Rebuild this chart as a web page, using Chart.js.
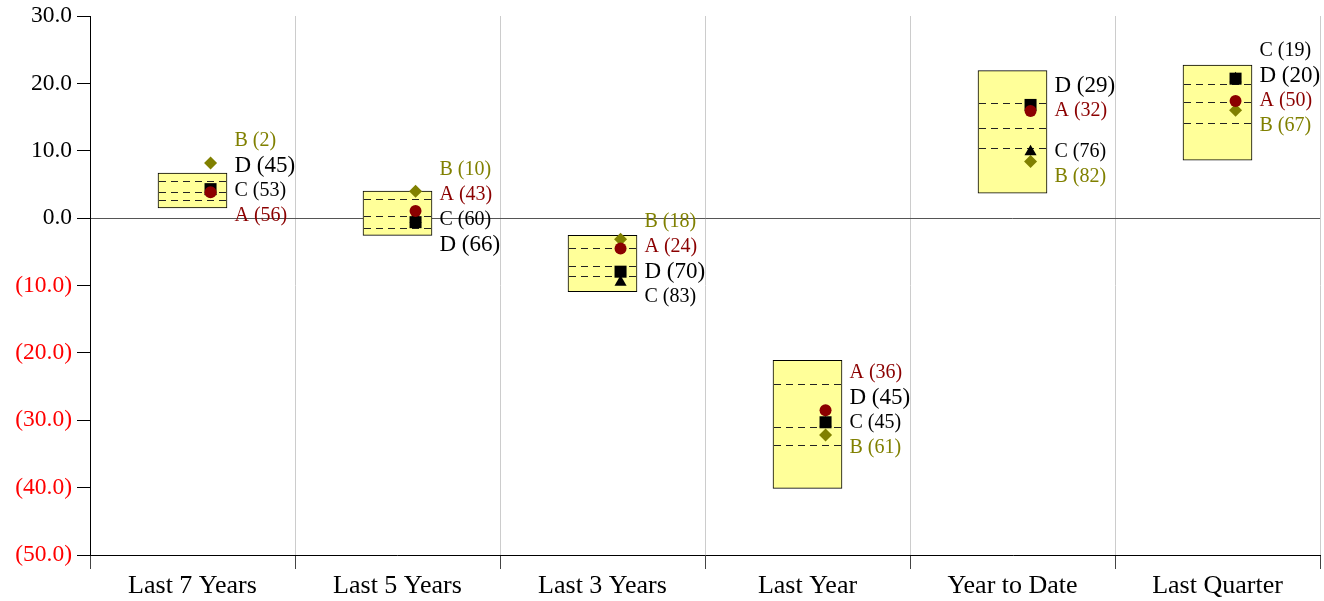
<!DOCTYPE html>
<html><head><meta charset="utf-8">
<script src="https://cdn.jsdelivr.net/npm/chart.js@4.4.0/dist/chart.umd.min.js"></script>
<style>html,body{margin:0;padding:0;background:#fff;overflow:hidden;} canvas{display:block;}</style>
</head><body>
<canvas id="c" width="1324" height="601"></canvas>
<script>
// ---- data ----
const categories = ['Last 7 Years','Last 5 Years','Last 3 Years','Last Year','Year to Date','Last Quarter'];
const p5  = [6.7, 4.0, -2.55, -21.1, 21.9, 22.7];
const p25 = [5.5, 2.9, -4.5, -24.6, 17.1, 19.95];
const p50 = [3.95, 0.3, -7.1, -31.05, 13.4, 17.3];
const p75 = [2.7, -1.4, -8.6, -33.7, 10.45, 14.1];
const p95 = [1.5, -2.55, -10.9, -40.1, 3.7, 8.6];
const seriesA = [3.85, 1.05, -4.5, -28.5, 15.9, 17.4];
const seriesB = [8.2, 4.0, -3.15, -32.2, 8.4, 16.0];
const seriesC = [4.0, -0.2, -9.5, -30.4, 9.85, 20.7];
const seriesD = [4.3, -0.6, -7.95, -30.3, 16.8, 20.7];
const rankA = [56, 43, 24, 36, 32, 50];
const rankB = [2, 10, 18, 61, 82, 67];
const rankC = [53, 60, 83, 45, 76, 19];
const rankD = [45, 66, 70, 45, 29, 20];
const yTicks = [30, 20, 10, 0, -10, -20, -30, -40, -50];

// ---- styles ----
const FONT = 'Liberation Serif';
const MARK_SHIFT = 0.088;   // marker offset right of category centre (in category units)
const LABEL_DX = 42;
const LABEL_GAP = 25;
const series = [
  {name:'A', vals:seriesA, ranks:rankA, color:'#8B0000', text:'#8B0000', style:'circle', r:6, size:20, order:1},
  {name:'D', vals:seriesD, ranks:rankD, color:'#000000', text:'#000000', style:'rect', r:8.5, size:23, order:2},
  {name:'C', vals:seriesC, ranks:rankC, color:'#000000', text:'#000000', style:'triangle', r:7, size:20, order:3},
  {name:'B', vals:seriesB, ranks:rankB, color:'#808000', text:'#808000', style:'rectRot', r:6.5, size:20, order:4},
];

Chart.defaults.font.family = FONT;

const datasets = [{
  type:'bar', label:'range', xAxisID:'x', yAxisID:'y', order:10, grouped:false,
  data: categories.map((_, i) => [p95[i], p5[i]]),
  backgroundColor:'#ffff99', borderColor:'#000', borderWidth:1, borderSkipped:false,
  barThickness:69
}];
series.forEach(s => datasets.push({
  type:'scatter', label:s.name, xAxisID:'x2', yAxisID:'y', order:s.order,
  data: categories.map((_, i) => ({x: i + 0.5 + MARK_SHIFT, y: s.vals[i]})),
  pointStyle:s.style, pointRadius:s.r, pointBackgroundColor:s.color, pointBorderColor:s.color,
  pointBorderWidth:0, showLine:false, clip:false
}));

const quartilePlugin = {
  id:'quartiles',
  afterDatasetDraw(chart, args) {
    if (args.index !== 0) return;
    const ctx = chart.ctx, ys = chart.scales.y;
    const meta = chart.getDatasetMeta(0);
    ctx.save();
    ctx.strokeStyle = '#222'; ctx.lineWidth = 1; ctx.setLineDash([7, 5]);
    meta.data.forEach((bar, i) => {
      const half = bar.width / 2;
      [p25[i], p50[i], p75[i]].forEach(q => {
        const y = Math.round(ys.getPixelForValue(q)) + 0.5;
        ctx.beginPath(); ctx.moveTo(bar.x - half + 1, y); ctx.lineTo(bar.x + half - 1, y); ctx.stroke();
      });
    });
    ctx.restore();
  }
};

const labelPlugin = {
  id:'ranklabels',
  afterDatasetsDraw(chart) {
    const ctx = chart.ctx, xs = chart.scales.x, ys = chart.scales.y;
    ctx.save();
    ctx.textAlign = 'left'; ctx.textBaseline = 'middle';
    categories.forEach((_, i) => {
      const cx = xs.getPixelForValue(i);
      const med = ys.getPixelForValue(p50[i]);
      const items = series.map(s => ({s, t: ys.getPixelForValue(s.vals[i]), rank: s.ranks[i]}));
      items.sort((a, b) => (a.t - b.t) || (a.rank - b.rank));
      let anchor = 0;
      items.forEach((it, k) => { if (Math.abs(it.t - med) < Math.abs(items[anchor].t - med)) anchor = k; });
      items[anchor].p = items[anchor].t;
      for (let k = anchor - 1; k >= 0; k--) items[k].p = Math.min(items[k].t, items[k+1].p - LABEL_GAP);
      for (let k = anchor + 1; k < items.length; k++) items[k].p = Math.max(items[k].t, items[k-1].p + LABEL_GAP);
      items.forEach(it => {
        ctx.font = it.s.size + 'px "' + FONT + '"';
        ctx.fillStyle = it.s.text;
        ctx.fillText(it.s.name + ' (' + it.rank + ')', cx + LABEL_DX, it.p);
      });
    });
    ctx.restore();
  }
};

new Chart(document.getElementById('c'), {
  data:{labels:categories, datasets},
  options:{
    responsive:false, animation:false, devicePixelRatio:1,
    layout:{autoPadding:false, padding:{top:16, right:4, left:0, bottom:0}},
    plugins:{legend:{display:false}, tooltip:{enabled:false}},
    scales:{
      x:{type:'category', offset:true,
        grid:{offset:true, color:'#cccccc', tickColor:'#444', tickLength:14, lineWidth:1},
        border:{color:'#000', width:1},
        ticks:{color:'#000', font:{size:26, family:FONT}, padding:2, maxRotation:0},
        afterFit(s){ s.height = 46; s.paddingLeft = 0; s.paddingRight = 0; }
      },
      x2:{type:'linear', min:0, max:6, display:false},
      y:{type:'linear', min:-50, max:30,
        afterBuildTicks(s){ s.ticks = yTicks.map(v => ({value:v})); },
        grid:{color:c => (c.tick && c.tick.value === 0) ? '#555' : 'rgba(0,0,0,0)', tickColor:'#000', tickLength:13},
        border:{color:'#000', width:1},
        ticks:{padding:5, font:{size:23.5, family:FONT},
          color:c => c.tick.value < 0 ? '#ff0000' : '#000',
          callback:v => v < 0 ? '(' + Math.abs(v).toFixed(1) + ')' : v.toFixed(1)},
        afterFit(s){ s.width = 90; s.paddingTop = 0; s.paddingBottom = 0; }
      }
    }
  },
  plugins:[quartilePlugin, labelPlugin]
});
</script>
</body></html>
